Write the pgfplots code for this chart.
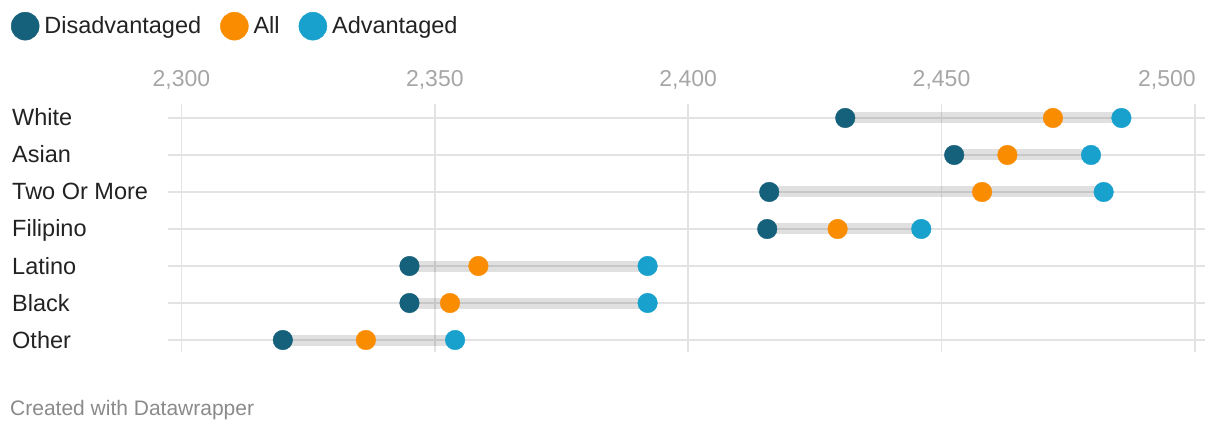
\documentclass[border=0pt]{standalone}
\usepackage{pgfplots}
\usepackage{pgfplotstable}
\pgfplotsset{compat=1.18}
\usepackage{fontspec}
\setmainfont{Liberation Sans}
\definecolor{dis}{HTML}{15607A}
\definecolor{allc}{HTML}{FA8C00}
\definecolor{adv}{HTML}{18A1CD}
\definecolor{gridc}{HTML}{E3E3E3}
\definecolor{tickc}{HTML}{A6A6A6}
\definecolor{txt}{HTML}{222222}
\definecolor{foot}{HTML}{8A8A8A}

\pgfplotstableread{
y dis all adv
0 2431 2472 2485.5
1 2452.5 2463 2479.5
2 2416 2458 2482
3 2415.6 2429.5 2446
4 2345 2358.6 2392
5 2345 2353 2392
6 2320 2336.4 2354
}\data

\begin{document}
\begin{tikzpicture}[x=1bp,y=1bp]
\path[use as bounding box] (0,0) rectangle (1220bp,430bp);
\begin{axis}[
  at={(168bp,78bp)}, anchor=south west,
  scale only axis, width=1037bp, height=248bp,
  xmin=2297.34, xmax=2502.0,
  ymin=-0.378, ymax=6.324, y dir=reverse,
  axis line style={draw=none},
  major tick length=0pt,
  xtick={2300,2350,2400,2450},
  extra x ticks={2500},
  extra x tick style={grid=major, xticklabel style={anchor=base east, xshift=1bp}},
  ytick={0,1,2,3,4,5,6},
  yticklabels={White,Asian,Two Or More,Filipino,Latino,Black,Other},
  xmajorgrids, ymajorgrids,
  grid style={gridc, line width=1.5bp},
  xticklabel pos=upper,
  /pgf/number format/1000 sep={,},
  /pgf/number format/assume math mode=true,
  xticklabel style={anchor=base, yshift=17bp, inner sep=0pt, text=tickc, font=\fontsize{23bp}{28bp}\selectfont},
  yticklabel style={anchor=base west, xshift=-156bp, yshift=-8bp, inner sep=0pt, text=txt, font=\fontsize{23.5bp}{28bp}\selectfont},
  clip=false,
  legend style={at={(-0.1514,1.371)}, anchor=north west, draw=none, fill=none, inner sep=0pt, outer sep=0pt,
    legend columns=3, column sep=5bp,
    /tikz/every even column/.append style={column sep=19bp},
    font=\fontsize{23.5bp}{28bp}\selectfont, text=txt,
    nodes={inner sep=0pt}},
  legend cell align=left,
]
\addplot[forget plot, mark=none, draw=none,
  error bars/.cd, x dir=plus, x explicit,
  error bar style={line width=11bp, black, opacity=0.12},
  error mark=none]
  table[x=dis, y=y, x error expr=\thisrow{adv}-\thisrow{dis}] {\data};
\addplot[only marks, color=dis, mark=*, mark size=9.8bp, mark options={draw=none, fill=dis},
  legend image code/.code={\fill[dis] (14bp,0bp) circle (14bp);}]
  table[x=dis, y=y] {\data};
\addlegendentry{Disadvantaged}
\addplot[only marks, color=allc, mark=*, mark size=9.8bp, mark options={draw=none, fill=allc},
  legend image code/.code={\fill[allc] (14bp,0bp) circle (14bp);}]
  table[x=all, y=y] {\data};
\addlegendentry{All}
\addplot[only marks, color=adv, mark=*, mark size=9.8bp, mark options={draw=none, fill=adv},
  legend image code/.code={\fill[adv] (14bp,0bp) circle (14bp);}]
  table[x=adv, y=y] {\data};
\addlegendentry{Advantaged}
\end{axis}
\node[anchor=base west, inner sep=0pt, text=foot, font=\fontsize{21bp}{25bp}\selectfont] at (10bp,15bp) {Created with Datawrapper};
\end{tikzpicture}
\end{document}
